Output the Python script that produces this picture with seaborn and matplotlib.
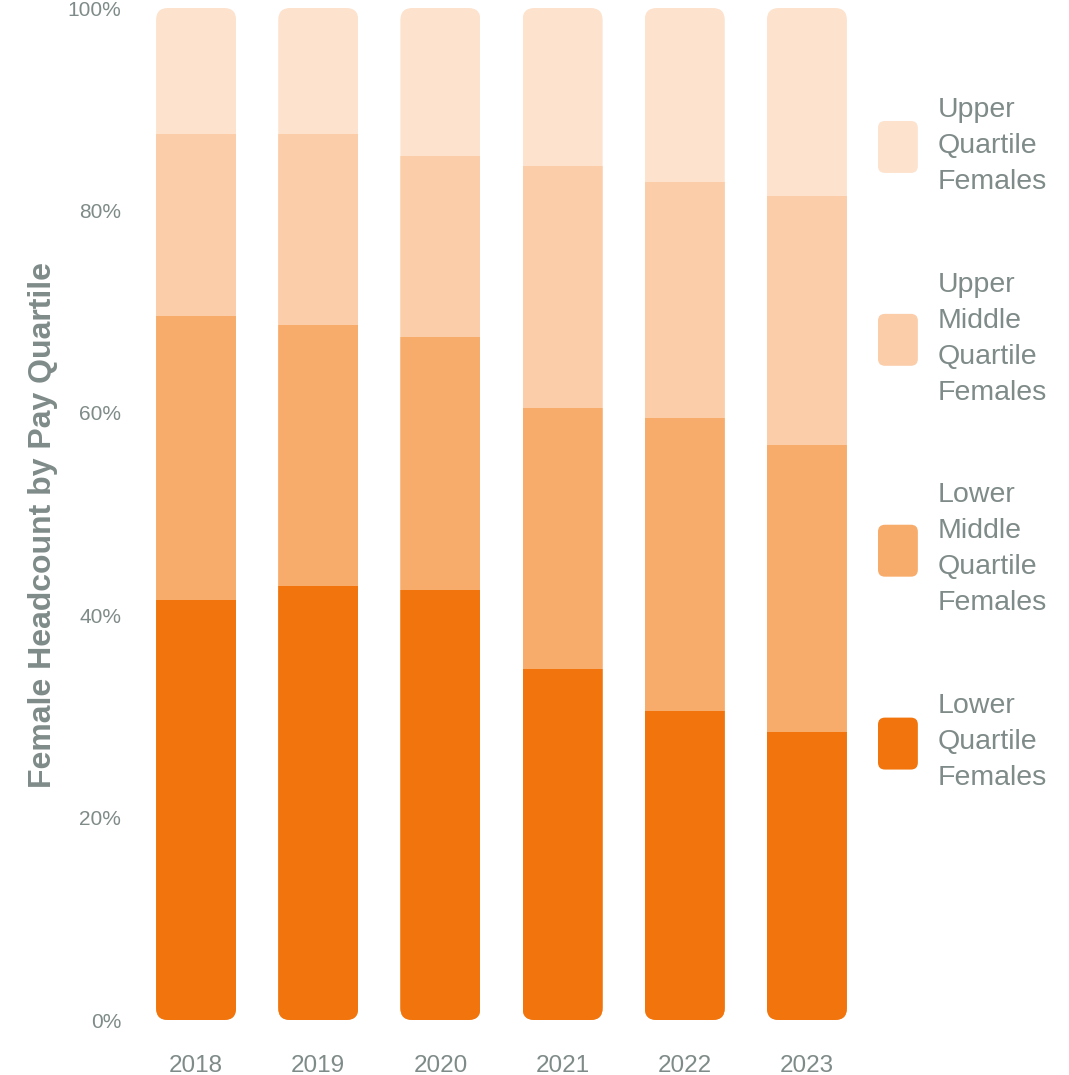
import matplotlib
matplotlib.use("Agg")
import matplotlib.pyplot as plt
from matplotlib.patches import FancyBboxPatch, Patch
from matplotlib.legend_handler import HandlerPatch
import seaborn as sns
import pandas as pd
import numpy as np

years = ["2018", "2019", "2020", "2021", "2022", "2023"]
lower = [41.5, 42.9, 42.5, 34.7, 30.5, 28.5]
lower_middle = [28.1, 25.8, 25.0, 25.8, 29.0, 28.3]
upper_middle = [17.9, 18.8, 17.9, 23.9, 23.3, 24.6]
upper = [12.5, 12.5, 14.6, 15.6, 17.2, 18.6]

series_names = ["Lower\nQuartile\nFemales", "Lower\nMiddle\nQuartile\nFemales",
                "Upper\nMiddle\nQuartile\nFemales", "Upper\nQuartile\nFemales"]
colors = ["#F1750C", "#F8AC6B", "#FBCDA9", "#FDE2CD"]
TXT = "#7F8B89"

sns.set_theme(style="white")
plt.rcParams["font.family"] = ["Liberation Sans", "DejaVu Sans"]

df = pd.DataFrame({"year": years, "s0": lower, "s1": lower_middle,
                   "s2": upper_middle, "s3": upper})
cum = df[["s0", "s1", "s2", "s3"]].cumsum(axis=1)

W, H = 1069, 1075
fig = plt.figure(figsize=(W / 100, H / 100), dpi=100)
ax = fig.add_axes([135 / W, 1 - 1020 / H, (868 - 135) / W, (1020 - 8) / H])

for i in range(3, -1, -1):
    sns.barplot(x=df["year"], y=cum[f"s{i}"], color=colors[i], saturation=1,
                width=0.655, linewidth=0, ax=ax)
ax.set_ylim(0, 100)
ax.set_xlim(-0.5, 5.5)

# rounded clipping for each stacked column
fig.canvas.draw()
p0 = ax.transData.transform((0, 0))
p1 = ax.transData.transform((1, 1))
px_x = p1[0] - p0[0]
px_y = p1[1] - p0[1]
rad_px = 12
full_bars = ax.containers[0].patches
for j, fb in enumerate(full_bars):
    x, y = fb.get_x(), fb.get_y()
    w, h = fb.get_width(), fb.get_height()
    clip = FancyBboxPatch((x, y), w, h,
                          boxstyle=f"round,pad=0,rounding_size={rad_px / px_x}",
                          mutation_aspect=px_x / px_y,
                          transform=ax.transData)
    for cont in ax.containers:
        cont.patches[j].set_clip_path(clip)

for s in ax.spines.values():
    s.set_visible(False)
ax.grid(False)
ax.set_xlabel("")
ax.set_ylabel("Female Headcount by Pay Quartile", fontsize=23, fontweight="bold",
              color=TXT)
ax.yaxis.set_label_coords(-0.105, 0.489)
ax.set_yticks([0, 20, 40, 60, 80, 100])
ax.set_yticklabels(["0%", "20%", "40%", "60%", "80%", "100%"])
ax.tick_params(axis="y", length=0, pad=10, labelsize=15, labelcolor=TXT)
ax.tick_params(axis="x", length=0, pad=25, labelsize=17.5, labelcolor=TXT)


class RoundHandler(HandlerPatch):
    def create_artists(self, legend, orig_handle, xdescent, ydescent, width,
                       height, fontsize, trans):
        p = FancyBboxPatch((-xdescent, -ydescent), width, height,
                           boxstyle="round,pad=0,rounding_size=5",
                           facecolor=orig_handle.get_facecolor(),
                           edgecolor="none", transform=trans)
        return [p]


handles = [Patch(facecolor=colors[i], label=series_names[i]) for i in range(3, -1, -1)]
leg = fig.legend(handles=handles, loc="center left",
                 bbox_to_anchor=(878 / W, 1 - 444 / H), bbox_transform=fig.transFigure,
                 frameon=False, fontsize=20.5, labelcolor=TXT,
                 handlelength=1.4, handleheight=2.43, handletextpad=0.7,
                 labelspacing=2.7, borderpad=0, borderaxespad=0,
                 handler_map={Patch: RoundHandler()})
for t in leg.get_texts():
    t.set_linespacing(1.5)

fig.savefig("out.png", dpi=100)
